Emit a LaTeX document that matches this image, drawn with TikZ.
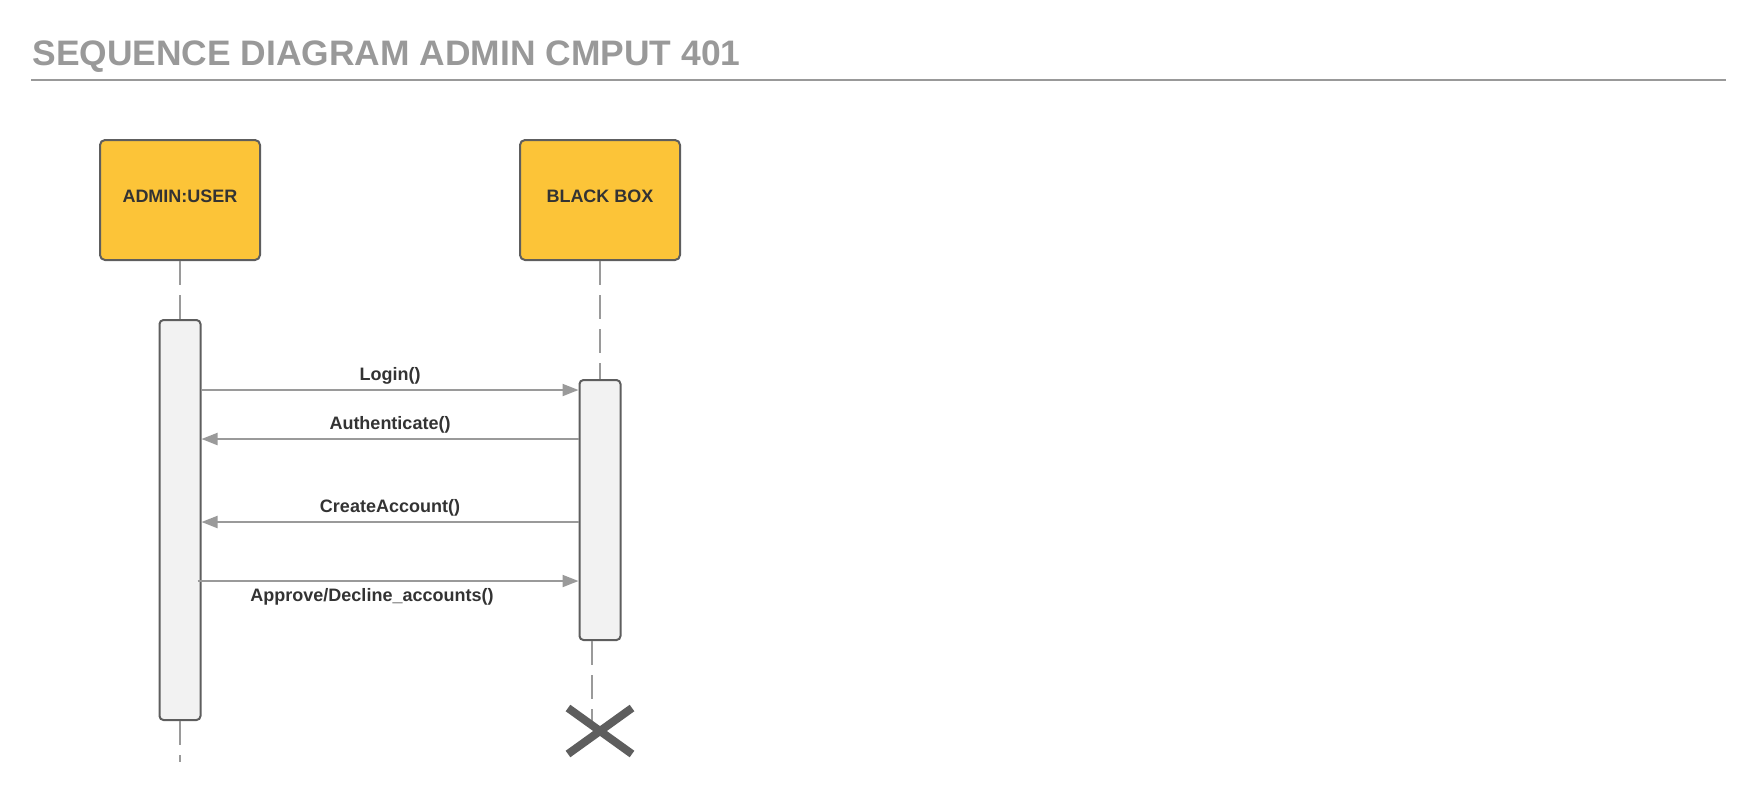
\documentclass[tikz,border=0pt]{standalone}
\usepackage{fontspec}
\setmainfont{Liberation Sans}
\usetikzlibrary{arrows.meta,shapes.misc}
\definecolor{boxfill}{HTML}{FCC438}
\definecolor{edge}{HTML}{5E5E5E}
\definecolor{msggray}{HTML}{9A9A9A}
\definecolor{titlegray}{HTML}{999999}
\definecolor{actfill}{HTML}{F2F2F2}
\definecolor{labeltext}{HTML}{333333}

\begin{document}
\begin{tikzpicture}[x=0.5pt, y=-0.5pt,
  actor/.style={rectangle, rounded corners=2.5pt, draw=edge, line width=1pt, fill=boxfill, minimum width=80pt, minimum height=60pt, text depth=3.5pt, font=\bfseries\fontsize{9}{11}\selectfont, text=labeltext},
  activation/.style={rectangle, rounded corners=2pt, draw=edge, line width=1pt, fill=actfill, minimum width=20.5pt, inner sep=0pt},
  lifeline/.style={draw=msggray, line width=1pt, dash pattern=on 12pt off 5pt},
  message/.style={draw=msggray, line width=1pt, -{Triangle[length=8pt, width=6pt]}},
  msglabel/.style={font=\bfseries\fontsize{9}{11}\selectfont, text=labeltext, inner sep=0pt, anchor=base}]
\useasboundingbox (0,0) rectangle (1760,800);
\node[font=\bfseries\fontsize{17.7}{21}\selectfont, text=titlegray, anchor=base west, inner sep=0pt] (Titre) at (32,65) {SEQUENCE DIAGRAM ADMIN CMPUT 401};
\coordinate (RegleG) at (31,80);
\coordinate (RegleD) at (1726,80);
\draw[titlegray, line width=1pt] (RegleG) -- (RegleD);
\node[actor] (Admin) at (180,200) {ADMIN:USER};
\node[actor] (Boite) at (600,200) {BLACK BOX};
\node[activation, minimum height=200pt] (AdminAct) at (180,520) {};
\node[activation, minimum height=130pt] (BoiteAct) at (600,510) {};
\coordinate (AdminFin) at (180,762);
\coordinate (BoiteFin) at (592,725);
\draw[lifeline] (Admin) -- (AdminAct);
\draw[lifeline] (AdminAct) -- (AdminFin);
\draw[lifeline] (Boite) -- (BoiteAct);
\draw[lifeline] (BoiteAct.south -| BoiteFin) -- (BoiteFin);
\node[cross out, draw=edge, line width=4pt, minimum width=28pt, minimum height=19pt, inner sep=0pt] (Fin) at (600,731) {};
\draw[message] (AdminAct.east |- 0,390) -- (BoiteAct.west |- 0,390) node[msglabel, midway, yshift=5pt] {Login()};
\draw[message] (BoiteAct.west |- 0,439) -- (AdminAct.east |- 0,439) node[msglabel, midway, yshift=5pt] {Authenticate()};
\draw[message] (BoiteAct.west |- 0,522) -- (AdminAct.east |- 0,522) node[msglabel, midway, yshift=5pt] {CreateAccount()};
\draw[message] ([xshift=-2pt]AdminAct.east |- 0,581) -- (BoiteAct.west |- 0,581) node[msglabel, midway, xshift=-8pt, yshift=-10pt] {Approve/Decline\_accounts()};
\end{tikzpicture}
\end{document}
